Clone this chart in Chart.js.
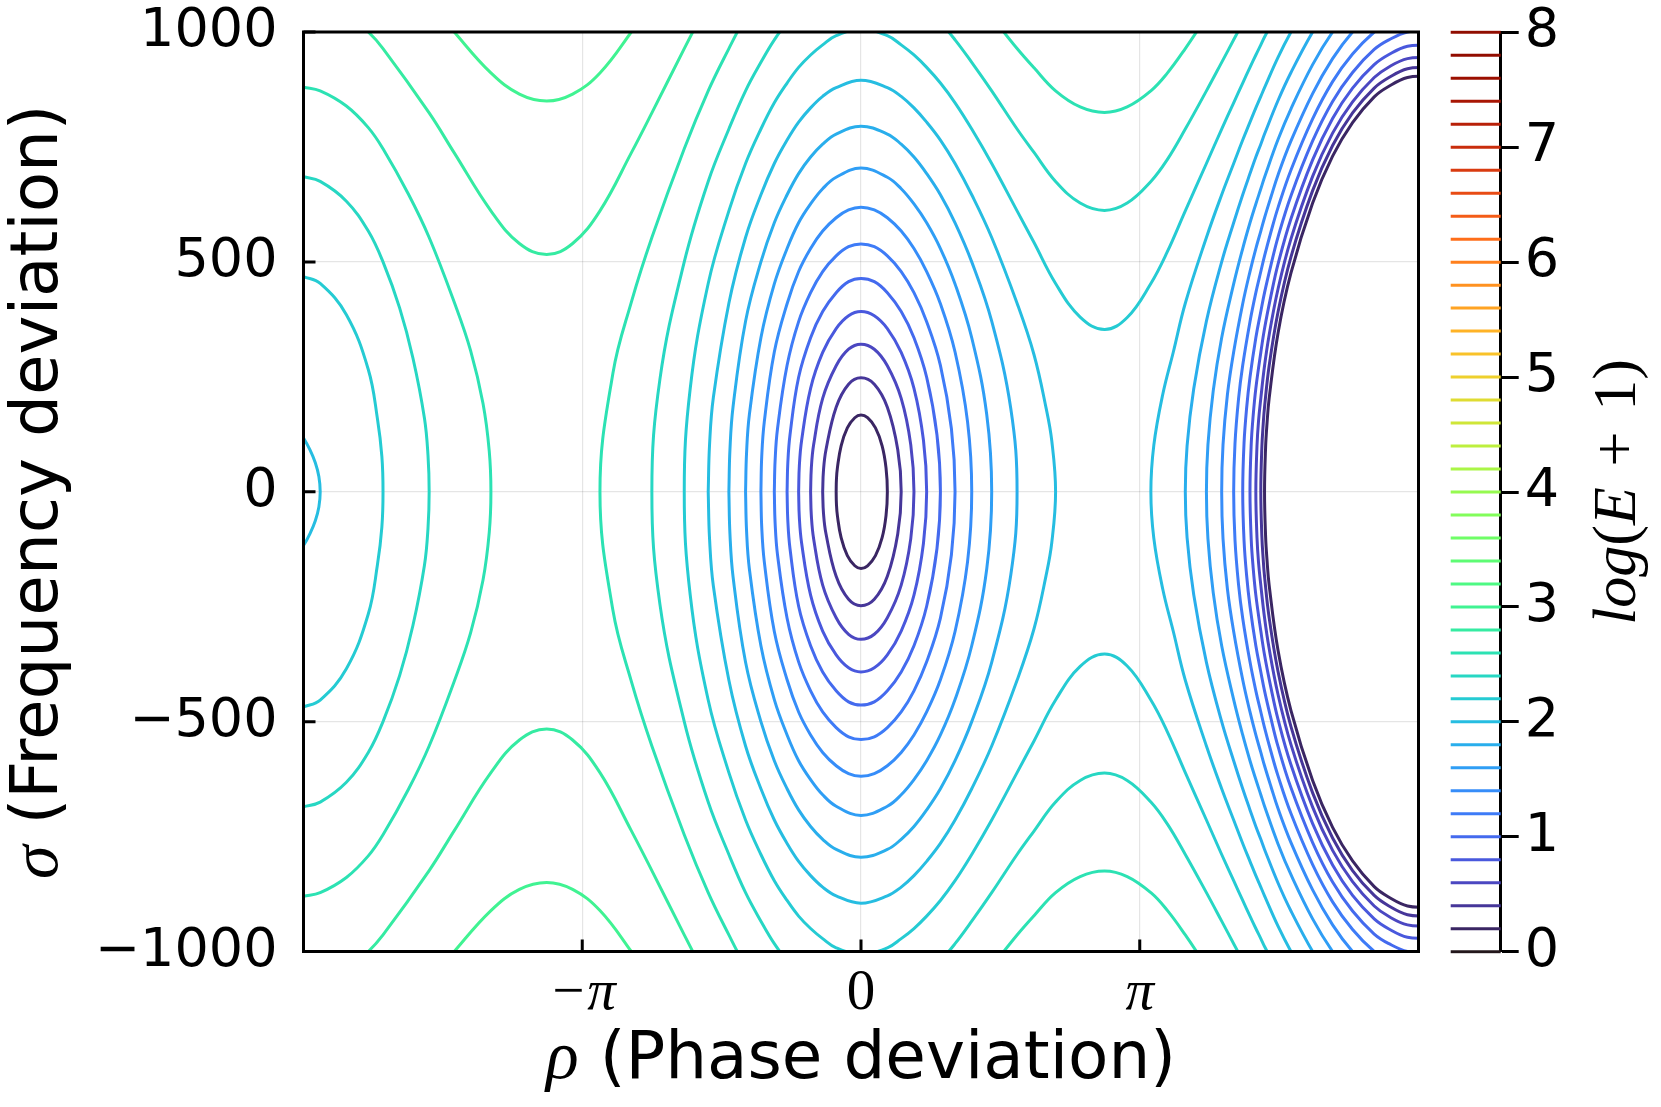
<!DOCTYPE html>
<html>
<head>
<meta charset="utf-8">
<script src="https://cdn.jsdelivr.net/npm/chart.js@4.4.1/dist/chart.umd.min.js"></script>
<style>
  html, body { margin: 0; padding: 0; background: #fff; }
  #wrap { position: relative; width: 1661px; height: 1107px; overflow: hidden; background: #fff; }
  #plot { position: absolute; left: 0; top: 0; width: 1440px; height: 1107px; }
  #bar { position: absolute; left: 1440px; top: 0; width: 221px; height: 1107px; }
</style>
</head>
<body>
<div id="wrap">
  <canvas id="plot" width="1440" height="1107"></canvas>
  <canvas id="bar" width="221" height="1107"></canvas>
</div>
<script>
"use strict"

// axis ticks
const rhoTicks = [-Math.PI, 0, Math.PI];
const rhoTickLabels = ["\u2212\u03c0", "0", "\u03c0"];
const sigmaTicks = [-1000, -500, 0, 500, 1000];
const barTicks = [0, 1, 2, 3, 4, 5, 6, 7, 8];

// contour levels of log(E+1), as in the colour bar
const contourLevels = [0, 0.2, 0.4, 0.6, 0.8, 1, 1.2, 1.4, 1.6, 1.8, 2, 2.2, 2.4, 2.6, 2.8, 3,
  3.2, 3.4, 3.6, 3.8, 4, 4.2, 4.4, 4.6, 4.8, 5, 5.2, 5.4, 5.6, 5.8, 6, 6.2, 6.4, 6.6, 6.8, 7,
  7.2, 7.4, 7.6, 7.8, 8];

// contour lines, upper half only [rho, sigma]
// (the plot is symmetric in sigma, the lower half is the mirror)

// closed rings around rho = 0, from left crossing to right crossing
const ring1 = [[-0.280,0],[-0.277,26],[-0.266,52],[-0.224,100],[-0.154,139],[-0.070,161],[0,167],[0.074,161],[0.163,139],[0.238,100],[0.282,52],[0.297,0]];
const ring2 = [[-0.432,0],[-0.423,46],[-0.394,92],[-0.280,184],[-0.140,234],[0,248],[0.150,234],[0.297,184],[0.414,92],[0.453,0]];
const ring3 = [[-0.568,0],[-0.560,51],[-0.534,102],[-0.432,203],[-0.280,274],[-0.140,310],[0,321],[0.150,310],[0.297,274],[0.453,203],[0.561,102],[0.597,0]];
const ring4 = [[-0.703,0],[-0.695,56],[-0.669,112],[-0.568,225],[-0.432,303],[-0.280,355],[-0.140,383],[0,392],[0.150,383],[0.297,355],[0.453,303],[0.597,225],[0.704,112],[0.740,0]];
const ring5 = [[-0.833,0],[-0.825,62],[-0.800,124],[-0.703,249],[-0.568,335],[-0.432,392],[-0.280,433],[-0.140,457],[0,464],[0.150,457],[0.297,433],[0.453,392],[0.597,335],[0.740,249],[0.856,124],[0.895,0]];
const ring6 = [[-0.977,0],[-0.968,68],[-0.941,137],[-0.833,275],[-0.703,370],[-0.568,433],[-0.432,479],[-0.280,513],[-0.140,533],[0,539],[0.150,533],[0.297,513],[0.453,479],[0.597,433],[0.740,370],[0.895,275],[1.019,137],[1.060,0]];
const ring7 = [[-1.128,0],[-1.119,76],[-1.090,152],[-0.977,304],[-0.833,409],[-0.703,479],[-0.568,529],[-0.432,567],[-0.280,596],[-0.140,613],[0,619],[0.150,613],[0.297,596],[0.453,567],[0.597,529],[0.740,479],[0.895,409],[1.060,304],[1.201,152],[1.248,0]];
const ring8 = [[-1.301,0],[-1.290,84],[-1.258,168],[-1.128,335],[-0.977,452],[-0.833,529],[-0.703,585],[-0.568,626],[-0.432,659],[-0.280,684],[0,704],[0.297,684],[0.453,659],[0.597,626],[0.740,585],[0.895,529],[1.060,452],[1.248,335],[1.417,168],[1.473,0]];
const ring9 = [[-1.489,0],[-1.477,92],[-1.442,185],[-1.301,371],[-1.128,500],[-0.977,585],[-0.833,646],[-0.703,692],[-0.568,728],[-0.432,756],[-0.280,778],[0,795],[0.297,778],[0.453,756],[0.597,728],[0.740,692],[0.895,646],[1.060,585],[1.248,500],[1.473,371],[1.688,181],[1.759,0]];
const ring10 = [[-1.722,0],[-1.707,102],[-1.664,205],[-1.489,410],[-1.301,553],[-1.128,646],[-0.977,714],[-0.833,765],[-0.703,804],[-0.568,835],[-0.432,860],[-0.280,879],[0,895],[0.297,879],[0.453,860],[0.597,835],[0.740,804],[0.895,765],[1.060,714],[1.248,646],[1.473,553],[1.759,410],[1.950,298],[2.085,183],[2.150,111],[2.193,0]];

// open lines: left crossing, over the top, through the right saddle, up to the top again
const bend11 = [[-1.992,0],[-1.925,224],[-1.722,453],[-1.489,611],[-1.301,714],[-1.128,789],[-0.977,846],[-0.833,889],[-0.703,923],[-0.568,950],[-0.432,972],[-0.280,992],[0,1006],[0.297,992],[0.453,972],[0.597,950],[0.740,923],[0.895,889],[1.060,846],[1.248,789],[1.473,714],[1.759,611],[1.950,542],[2.193,453],[2.470,380],[2.744,353],[3.000,379],[3.267,453],[3.450,521],[3.655,611],[3.893,714],[4.065,789],[4.200,846],[4.302,889],[4.384,923],[4.450,950],[4.506,972],[4.548,989],[4.846,1098]];
const bend12 = [[-2.357,0],[-2.266,245],[-1.992,500],[-1.722,675],[-1.489,789],[-1.301,872],[-1.128,934],[-0.977,983],[-0.833,1020],[-0.568,1074],[0,1121],[0.597,1074],[0.895,1020],[1.060,983],[1.248,934],[1.473,872],[1.759,789],[1.950,738],[2.193,675],[2.470,628],[2.744,612],[3.000,628],[3.267,675],[3.450,722],[3.655,789],[3.893,872],[4.065,934],[4.200,983],[4.302,1020],[4.384,1050]];
const bend13 = [[-2.942,0],[-2.796,258],[-2.589,412],[-2.357,553],[-1.992,746],[-1.722,872],[-1.489,964],[-1.301,1033],[-1.128,1086],[-0.833,1160],[0,1250],[0.895,1160],[1.248,1086],[1.473,1033],[1.759,964],[1.950,922],[2.193,872],[2.470,837],[2.744,825],[3.000,837],[3.267,872],[3.450,910],[3.655,964],[3.893,1033],[4.065,1086]];

// humps over the left saddle (upper and lower are separate lines)
const hump14 = [[-5.800,1038],[-5.553,1000],[-5.387,964],[-4.867,824],[-4.584,737],[-4.171,611],[-3.850,540],[-3.542,516],[-3.250,540],[-2.942,611],[-2.589,737],[-2.357,824],[-1.992,964],[-1.722,1065]];
const hump15 = [[-4.867,1066],[-4.584,1000],[-4.171,911],[-3.850,865],[-3.542,850],[-3.250,865],[-2.942,911],[-2.589,1000],[-2.357,1066]];

// arcs at the left edge, from crossing out past rho = -2pi
const west10 = [[-6.095,0],[-6.110,33],[-6.150,63],[-6.210,91],[-6.283,117],[-6.350,134]];
const west11 = [[-5.387,0],[-5.400,77],[-5.450,159],[-5.553,266],[-5.800,385],[-6.095,453],[-6.283,468],[-6.400,476]];
const west12 = [[-4.867,0],[-4.880,79],[-4.920,160],[-5.050,291],[-5.200,400],[-5.387,500],[-5.553,567],[-5.800,632],[-6.095,675],[-6.283,685],[-6.400,690]];
const west13 = [[-4.171,0],[-4.190,89],[-4.260,192],[-4.400,307],[-4.584,412],[-4.867,553],[-5.100,647],[-5.387,746],[-5.553,792],[-5.800,839],[-6.095,872],[-6.283,880],[-6.400,885]];

// arcs at the right edge, from crossing out to the top / right edge
const east1 = [[4.548,0],[4.560,97],[4.575,146],[4.600,203],[4.700,345],[4.846,476],[5.090,628],[5.315,730],[5.540,803],[5.784,859],[5.950,882],[6.159,901],[6.400,904]];
const east2 = [[4.506,0],[4.518,98],[4.533,147],[4.548,184],[4.600,274],[4.700,391],[4.846,511],[5.090,655],[5.315,753],[5.540,824],[5.784,878],[5.950,901],[6.159,920],[6.400,923]];
const east3 = [[4.450,0],[4.463,100],[4.480,153],[4.506,203],[4.548,274],[4.600,341],[4.700,441],[4.846,550],[5.090,686],[5.315,780],[5.540,848],[5.784,901],[5.950,924],[6.159,942],[6.400,945]];
const east4 = [[4.384,0],[4.398,104],[4.420,166],[4.450,225],[4.506,303],[4.548,355],[4.620,426],[4.700,495],[4.846,594],[5.090,722],[5.315,812],[5.540,878],[5.784,929],[5.950,951],[6.159,969],[6.400,971]];
const east5 = [[4.302,0],[4.317,106],[4.345,180],[4.384,249],[4.450,335],[4.506,392],[4.548,433],[4.620,493],[4.700,554],[4.846,644],[5.090,763],[5.315,849],[5.540,912],[5.784,962],[5.950,983],[6.159,1000],[6.400,1003]];
const east6 = [[4.200,0],[4.215,105],[4.255,202],[4.302,275],[4.384,370],[4.450,433],[4.506,479],[4.548,513],[4.620,565],[4.700,618],[4.846,700],[5.090,811],[5.315,892],[5.540,952],[5.784,1000],[5.950,1020]];
const east7 = [[4.065,0],[4.080,102],[4.130,212],[4.200,304],[4.302,409],[4.384,479],[4.450,529],[4.506,567],[4.548,596],[4.620,641],[4.700,689],[4.846,763],[5.090,866],[5.315,942],[5.540,1000],[5.784,1045]];
const east8 = [[3.893,0],[3.910,102],[3.970,220],[4.065,335],[4.200,452],[4.302,529],[4.384,585],[4.450,626],[4.506,659],[4.548,684],[4.700,766],[4.846,833],[5.090,929],[5.315,1000],[5.540,1054]];
const east9 = [[3.655,0],[3.675,100],[3.750,224],[3.893,371],[4.065,500],[4.200,585],[4.302,646],[4.384,692],[4.450,728],[4.506,756],[4.548,778],[4.700,851],[4.846,912],[5.090,1000],[5.315,1067]];
const east10 = [[3.267,0],[3.300,101],[3.400,211],[3.520,304],[3.655,410],[3.893,553],[4.065,646],[4.200,714],[4.302,765],[4.384,804],[4.450,835],[4.506,860],[4.548,879],[4.700,945],[4.846,1000],[5.090,1081]];

// which line belongs to which level, and how it is closed
const curveList = [
  [ring1, 0.2, "loop"], [ring2, 0.4, "loop"], [ring3, 0.6, "loop"], [ring4, 0.8, "loop"], [ring5, 1.0, "loop"],
  [ring6, 1.2, "loop"], [ring7, 1.4, "loop"], [ring8, 1.6, "loop"], [ring9, 1.8, "loop"], [ring10, 2.0, "loop"],
  [bend11, 2.2, "arc"], [bend12, 2.4, "arc"], [bend13, 2.6, "arc"],
  [hump14, 2.8, "pair"], [hump15, 3.0, "pair"],
  [west10, 2.0, "arc"], [west11, 2.2, "arc"], [west12, 2.4, "arc"], [west13, 2.6, "arc"],
  [east1, 0.2, "arc"], [east2, 0.4, "arc"], [east3, 0.6, "arc"], [east4, 0.8, "arc"], [east5, 1.0, "arc"],
  [east6, 1.2, "arc"], [east7, 1.4, "arc"], [east8, 1.6, "arc"], [east9, 1.8, "arc"], [east10, 2.0, "arc"]
];

/*
turbo colour map, t in [0,1]
*/
function turbo(t){
    t = Math.max(0, Math.min(1, t));
    var r = 0.13572138 + t*(4.61539260 + t*(-42.66032258 + t*(132.13108234 + t*(-152.94239396 + t*59.28637943))));
    var g = 0.09140261 + t*(2.19418839 + t*(4.84296658 + t*(-14.18503333 + t*(4.27729857 + t*2.82956604))));
    var b = 0.10667330 + t*(12.64194608 + t*(-60.58204836 + t*(110.36276771 + t*(-89.90310912 + t*27.34824973))));
    function c(v){ return Math.round(255*Math.max(0, Math.min(1, v))); }
    return "rgb(" + c(r) + "," + c(g) + "," + c(b) + ")";
}

function mirror(pts){
    return pts.map(function(q){ return [q[0], -q[1]]; });
}

function lineSet(pts, level){
    return {
        data: pts.map(function(q){ return {x: q[0], y: q[1]}; }),
        showLine: true,
        borderColor: turbo(level/8),
        borderWidth: 3,
        borderCapStyle: "round",
        borderJoinStyle: "round",
        pointRadius: 0,
        tension: 0.4,
        fill: false,
        clip: 0,
    };
}

function buildDatasets(){
    var sets = [];
    curveList.forEach(function(item){
        var pts = item[0], level = item[1], kind = item[2];
        if(kind === "loop"){
            sets.push(lineSet(pts.concat(mirror(pts).reverse().slice(1)), level));
        }else if(kind === "arc"){
            sets.push(lineSet(pts.slice().reverse().concat(mirror(pts).slice(1)), level));
        }else{
            sets.push(lineSet(pts, level));
            sets.push(lineSet(mirror(pts), level));
        }
    });
    return sets;
}

// draw text made of pieces in different fonts, centred on (x, y) baseline
function drawRich(ctx, parts, x, y, angle){
    ctx.save();
    ctx.translate(x, y);
    ctx.rotate(angle);
    ctx.textBaseline = "alphabetic";
    ctx.textAlign = "left";
    ctx.fillStyle = "#000";
    var w = 0;
    parts.forEach(function(p){ ctx.font = p[1]; w += ctx.measureText(p[0]).width; });
    var cx = -w/2;
    parts.forEach(function(p){
        ctx.font = p[1];
        ctx.fillText(p[0], cx, 0);
        cx += ctx.measureText(p[0]).width;
    });
    ctx.restore();
}

// keep the plot box where the picture has it, whatever the tick labels need
function noScalePadding(s){
    s.paddingTop = 0;
    s.paddingBottom = 0;
    s.paddingLeft = 0;
    s.paddingRight = 0;
}

const SANS_TITLE = '66px "DejaVu Sans"';
const MATH_TITLE = 'italic 68px "Liberation Serif"';

const framePlugin = {
    id: "frame",
    afterDatasetsDraw(chart){
        var ctx = chart.ctx, a = chart.chartArea;
        var xs = chart.scales.x, ys = chart.scales.y;
        ctx.save();
        ctx.strokeStyle = "#000";
        ctx.lineWidth = 3;
        ctx.beginPath();
        rhoTicks.forEach(function(v){
            var px = xs.getPixelForValue(v);
            ctx.moveTo(px, a.bottom);
            ctx.lineTo(px, a.bottom - 12);
        });
        sigmaTicks.forEach(function(v){
            var py = ys.getPixelForValue(v);
            ctx.moveTo(a.left, py);
            ctx.lineTo(a.left + 12, py);
        });
        ctx.stroke();
        ctx.strokeRect(a.left, a.top, a.right - a.left, a.bottom - a.top);
        ctx.restore();
    },
    afterDraw(chart){
        var ctx = chart.ctx, a = chart.chartArea;
        drawRich(ctx, [["\u03c1", MATH_TITLE], [" (Phase deviation)", SANS_TITLE]], (a.left + a.right)/2, 1078, 0);
        drawRich(ctx, [["\u03c3", MATH_TITLE], [" (Frequency deviation)", SANS_TITLE]], 57, (a.top + a.bottom)/2, -Math.PI/2);
    }
};

new Chart(document.getElementById("plot"), {
    type: "scatter",
    data: { datasets: buildDatasets() },
    options: {
        responsive: false,
        animation: false,
        devicePixelRatio: 1,
        layout: { padding: { top: 32, right: 21.5, left: 0, bottom: 0 } },
        plugins: { legend: { display: false }, tooltip: { enabled: false } },
        elements: { point: { radius: 0 }, line: { capBezierPoints: false } },
        scales: {
            x: {
                type: "linear",
                min: -2*Math.PI,
                max: 2*Math.PI,
                afterBuildTicks: function(s){ s.ticks = rhoTicks.map(function(v){ return {value: v}; }); },
                afterFit: function(s){ s.height = 155.5; noScalePadding(s); },
                ticks: {
                    autoSkip: false,
                    maxRotation: 0,
                    padding: 8,
                    color: "#000",
                    font: function(c){
                        var up = c.tick && c.tick.value === 0;
                        return { family: "Liberation Serif", size: 57, style: up ? "normal" : "italic", lineHeight: 1.2 };
                    },
                    callback: function(v, i){ return rhoTickLabels[i]; }
                },
                grid: { color: "rgba(0,0,0,0.1)", lineWidth: 1.2, drawTicks: false },
                border: { display: true, color: "#000", width: 3 }
            },
            y: {
                type: "linear",
                min: -1000,
                max: 1000,
                afterBuildTicks: function(s){ s.ticks = sigmaTicks.map(function(v){ return {value: v}; }); },
                afterFit: function(s){ s.width = 303.5; noScalePadding(s); },
                ticks: {
                    padding: 26,
                    color: "#000",
                    font: { family: "DejaVu Sans", size: 54, lineHeight: 1 },
                    callback: function(v){ return String(v).replace("-", "\u2212"); }
                },
                grid: { color: "rgba(0,0,0,0.1)", lineWidth: 1.2, drawTicks: false },
                border: { display: true, color: "#000", width: 3 }
            }
        }
    },
    plugins: [framePlugin]
});

// colour bar: one short line per contour level
const BAR_IT = 'italic 62px "Liberation Serif"';
const BAR_UP = '62px "Liberation Serif"';
const barTitlePlugin = {
    id: "barTitle",
    afterDraw(chart){
        drawRich(chart.ctx, [["log", BAR_IT], ["(", BAR_UP], ["E", BAR_IT], ["\u2004+\u2004", BAR_UP], ["1", BAR_UP], [")", BAR_UP]],
            195, 492, -Math.PI/2);
    }
};

new Chart(document.getElementById("bar"), {
    type: "scatter",
    data: {
        datasets: contourLevels.map(function(v){
            return { data: [{x: 0, y: v}, {x: 1, y: v}], showLine: true, borderColor: turbo(v/8), borderWidth: 3, pointRadius: 0, clip: 2 };
        })
    },
    options: {
        responsive: false,
        animation: false,
        devicePixelRatio: 1,
        layout: { padding: { top: 32.3, bottom: 155.3, left: 10.7, right: 0 } },
        plugins: { legend: { display: false }, tooltip: { enabled: false } },
        scales: {
            x: { type: "linear", display: false, min: 0, max: 1 },
            y: {
                type: "linear",
                position: "right",
                min: 0,
                max: 8,
                afterBuildTicks: function(s){ s.ticks = barTicks.map(function(v){ return {value: v}; }); },
                afterFit: function(s){ s.width = 160.3; noScalePadding(s); },
                ticks: { padding: 6, color: "#000", font: { family: "DejaVu Sans", size: 54, lineHeight: 1 } },
                grid: { drawOnChartArea: false, drawTicks: true, tickLength: 18, tickColor: "#000", tickWidth: 3 },
                border: { display: true, color: "#000", width: 3 }
            }
        }
    },
    plugins: [barTitlePlugin]
});
</script>
</body>
</html>
